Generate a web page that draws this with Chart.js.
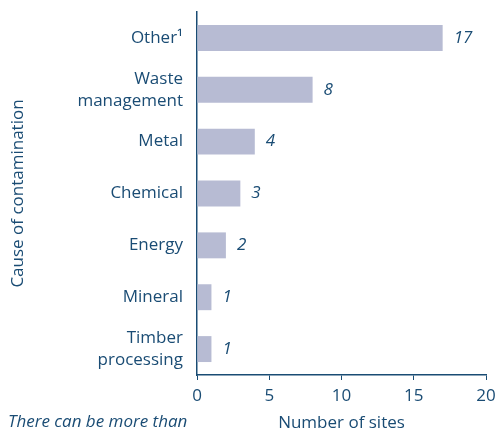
<!DOCTYPE html>
<html>
<head>
<meta charset="utf-8">
<script src="https://cdn.jsdelivr.net/npm/chart.js@4/dist/chart.umd.min.js"></script>
<style>
	html, body { margin: 0; padding: 0; background: #fff; }
	#wrap { width: 504px; height: 437px; position: relative; }
</style>
</head>
<body>
<div id="wrap"><canvas id="myChart"></canvas></div>

<script>
	const causes = ["Other\u00B9", ["Waste", "management"], "Metal", "Chemical", "Energy", "Mineral", ["Timber", "processing"]];
	const siteCounts = [17, 8, 4, 3, 2, 1, 1];
	const xTicks = [0, 5, 10, 15, 20];
	const footnote = "There can be more than";

	const ink = "#1a4c74";
	const barFill = "#b7bbd3";
	const fontFamily = "'Open Sans', sans-serif";

	// italic counts at the end of each bar, plus the footnote under the axis
	const valueLabels = {
		id: "valueLabels",
		afterDatasetsDraw(chart) {
			const ctx = chart.ctx;
			const meta = chart.getDatasetMeta(0);
			ctx.save();
			ctx.fillStyle = ink;
			ctx.font = "italic 17px " + fontFamily;
			ctx.textBaseline = "middle";
			ctx.textAlign = "left";
			meta.data.forEach((bar, i) => {
				ctx.fillText(String(siteCounts[i]), bar.x + 11, bar.y);
			});
			ctx.fillText(footnote, 8, 422);
			ctx.restore();
		},
	};

	const ctx = document.getElementById("myChart").getContext("2d");
	const myChart = new Chart(ctx, {
		type: "bar",
		data: {
			labels: causes,
			datasets: [
				{
					data: siteCounts,
					backgroundColor: barFill,
					borderWidth: 0,
					barPercentage: 0.5,
					categoryPercentage: 1,
				},
			],
		},
		options: {
			indexAxis: "y",
			responsive: true,
			maintainAspectRatio: false,
			animation: false,
			layout: { padding: { top: 12, right: 18, left: 0, bottom: 0 } },
			plugins: {
				legend: { display: false },
				tooltip: { enabled: false },
			},
			scales: {
				x: {
					min: 0,
					max: 20,
					afterBuildTicks(scale) {
						scale.ticks = xTicks.map((v) => ({ value: v }));
					},
					afterFit(scale) {
						scale.height = 62;
						scale.paddingLeft = 0;
						scale.paddingRight = 0;
					},
					border: { display: true, color: ink, width: 1.5 },
					grid: { drawOnChartArea: false, drawTicks: true, tickLength: 5, color: ink, lineWidth: 1 },
					ticks: { color: ink, font: { family: fontFamily, size: 17 }, padding: 6 },
					title: {
						display: true,
						text: "Number of sites",
						color: ink,
						font: { family: fontFamily, size: 17 },
						padding: { top: 2, bottom: 4 },
					},
				},
				y: {
					afterFit(scale) {
						scale.width = 197;
						scale.paddingTop = 0;
						scale.paddingBottom = 0;
					},
					border: { display: true, color: ink, width: 1.5 },
					grid: { display: false },
					ticks: {
						color: ink,
						font: { family: fontFamily, size: 17, lineHeight: 1.3 },
						padding: 6,
					},
					title: {
						display: true,
						text: "Cause of contamination",
						color: ink,
						font: { family: fontFamily, size: 17 },
						padding: { top: 8, bottom: 0 },
					},
				},
			},
		},
		plugins: [valueLabels],
	});
</script>
</body>
</html>
